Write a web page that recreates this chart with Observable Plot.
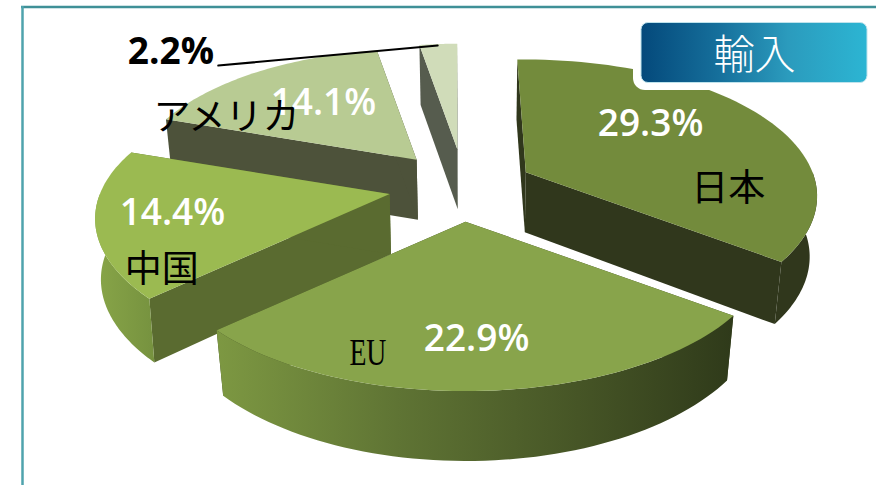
<!DOCTYPE html>
<html>
<head>
<meta charset="utf-8">
<script src="https://cdn.jsdelivr.net/npm/d3@7"></script>
<script src="https://cdn.jsdelivr.net/npm/@observablehq/plot@0.6"></script>
<style>
html,body{margin:0;padding:0;background:#fff;overflow:hidden}
svg{display:block}
</style>
</head>
<body>
<div id="chart"></div>
<script>
// Chart data
const categories = ["日本", "EU", "中国", "アメリカ", ""];
const shares = [29.3, 22.9, 14.4, 14.1, 2.2];
const shareLabels = ["29.3%", "22.9%", "14.4%", "14.1%", "2.2%"];
const panelTitle = "輸入";

// Layout and style of the 3D pie, kept apart from the values
const W = 876, H = 485;
const view = {cx: 458, cy: 180, k: 305, q: 141, p: 0.188, pivotX: 480};
const explode = [[0.231, 75], [0.278, 175.5], [0.241, 247], [0.207, 317], [0.232, 359]];
const radius = [0.94, 0.98, 0.95, 0.92, 0.87];
const startTilt = [-2, 0, 0, 0, 0];
const squeeze = [0.022, 0.025, 0.015, 0.02, 0.02];
const topFill = ["#738b3c", "#88a44b", "#9bba51", "#b8cb93", "#d0dcb9"];
const faceFill = ["#30371c", "#3a4520", "#5a6b30", "#4d523a", "#565c4e"];
const wallFill = ["#30371c", "url(#euWall)", "url(#cnWall)", "#4d523a", "#565c4e"];
const paintOrder = [4, 3, 0, 2, 1];
const pctAt = [[50.4, 0.567], [177.5, 0.719], [259, 0.707], [322.6, 0.544], [306.1, 1.334]];
const pctColor = ["#fff", "#fff", "#fff", "#fff", "#000"];
const pctWeight = [600, 600, 600, 600, 700];
const nameAt = [[100.5, 0.66], [199, 0.837], [234, 0.838], [295.2, 0.729], null];
const nameFont = ['"Noto Sans CJK JP"', '"Liberation Serif"', '"Noto Sans CJK JP"', '"Noto Sans CJK JP"', null];
const nameSize = [37, 38, 37, 37, 0];
const leaderAt = [[307.1, 1.106], [355, 0.856]];

// Geometry derived from the shares
const rad = d => d * Math.PI / 180;
const total = d3.sum(shares);
const proj = (deg, r) => {
  const u = r * Math.sin(rad(deg)), v = r * Math.cos(rad(deg)), w = 1 + view.p * v;
  return [view.k * u / w, -view.q * v / w];
};
const depthAt = y => 60 + 10 * Math.pow(Math.max(0, y - 150) / 242, 2);
const row = ([x, y]) => ({x, y});

let acc = 0;
const slices = shares.map((s, i) => {
  const a0 = acc / total * 360 + startTilt[i]; acc += s;
  const a1 = acc / total * 360;
  const off = proj(explode[i][1], explode[i][0]);
  const apex = [view.cx + off[0], view.cy + off[1]];
  const at = (deg, r) => { const p = proj(deg, r); return [apex[0] + p[0], apex[1] + p[1]]; };
  const sweep = (from, to) => d3.range(0, 61).map(t => at(from + (to - from) * t / 60, radius[i]));
  const arc = sweep(a0, a1);
  const lo = Math.max(a0, 90), hi = Math.min(a1, 270);
  const front = hi > lo ? sweep(lo, hi) : null;
  const drop = ([x, y]) => [x + (view.pivotX - x) * squeeze[i], y + depthAt(y)];
  return {i, a0, a1, apex, at, arc, front, drop};
});

const marks = [];
const poly = (pts, fill) => marks.push(Plot.line(pts.map(row), {x: "x", y: "y", fill, stroke: "none", curve: "linear-closed"}));

// frame
marks.push(Plot.ruleY([6.5], {x1: 21, x2: W, stroke: "#3f9097", strokeWidth: 2.5}));
marks.push(Plot.ruleX([22], {y1: 6, y2: H, stroke: "#4fa3ad", strokeWidth: 2.5}));

for (const i of paintOrder) {
  const s = slices[i], drop = s.drop;
  const first = s.arc[0], last = s.arc[s.arc.length - 1];
  // cut faces, then the camera-facing outer wall, then the top
  poly([s.apex, first, drop(first), drop(s.apex)], faceFill[i]);
  poly([s.apex, last, drop(last), drop(s.apex)], faceFill[i]);
  if (s.front) poly([...s.front, ...s.front.map(drop).reverse()], wallFill[i]);
  poly([s.apex, ...s.arc], topFill[i]);
}

// leader of the small slice
const small = slices[4];
marks.push(Plot.line(leaderAt.map(([d, r]) => row(small.at(d, r))), {x: "x", y: "y", stroke: "#000", strokeWidth: 2}));

// labels
for (const s of slices) {
  const [x, y] = s.at(...pctAt[s.i]);
  marks.push(Plot.text([shareLabels[s.i]], {
    x: () => x, y: () => y, text: d => d, fill: pctColor[s.i],
    fontSize: 37, fontWeight: pctWeight[s.i], fontFamily: '"Open Sans"', textAnchor: "middle", lineAnchor: "middle"
  }));
}
for (const s of slices) {
  if (!nameAt[s.i]) continue;
  const [x, y] = s.at(...nameAt[s.i]);
  marks.push(Plot.text([categories[s.i]], {
    x: () => x, y: () => y, text: d => d, fill: "#000",
    fontSize: nameSize[s.i], fontFamily: nameFont[s.i], textAnchor: "middle", lineAnchor: "middle"
  }));
}

// panel badge
marks.push(Plot.rect([0], {x1: () => 633, x2: () => 876, y1: () => 12, y2: () => 90, rx: 12, fill: "#fff"}));
marks.push(Plot.rect([0], {x1: () => 641, x2: () => 867, y1: () => 22.5, y2: () => 82.5, rx: 7, fill: "url(#badge)", stroke: "#bfe3ec", strokeWidth: 1}));
marks.push(Plot.text([panelTitle], {x: () => 754, y: () => 55, text: d => d, fill: "#fff", fontSize: 41, fontWeight: 300, fontFamily: '"Noto Sans CJK JP"', textAnchor: "middle", lineAnchor: "middle"}));

const svg = Plot.plot({
  width: W, height: H, margin: 0,
  x: {domain: [0, W], range: [0, W], axis: null},
  y: {domain: [0, H], range: [0, H], axis: null},
  style: {background: "#fff"},
  marks
});

const defs = d3.select(svg).insert("defs", ":first-child");
const grad = (id, stops) => {
  const g = defs.append("linearGradient").attr("id", id).attr("x1", 0).attr("x2", 1).attr("y1", 0).attr("y2", 0);
  stops.forEach(([o, c]) => g.append("stop").attr("offset", o).attr("stop-color", c));
};
grad("euWall", [[0, "#7d9842"], [0.35, "#5f7434"], [0.7, "#465526"], [1, "#2f3a1a"]]);
grad("cnWall", [[0, "#88a548"], [1, "#76923f"]]);
grad("badge", [[0, "#04497b"], [0.35, "#16709c"], [0.65, "#2b9bbd"], [1, "#2cb5d3"]]);

// The Latin label is drawn tall and narrow, as in the reference
d3.select(svg).selectAll("text").filter(function () { return this.textContent === "EU"; })
  .attr("textLength", 37).attr("lengthAdjust", "spacingAndGlyphs");

document.getElementById("chart").appendChild(svg);
</script>
</body>
</html>
